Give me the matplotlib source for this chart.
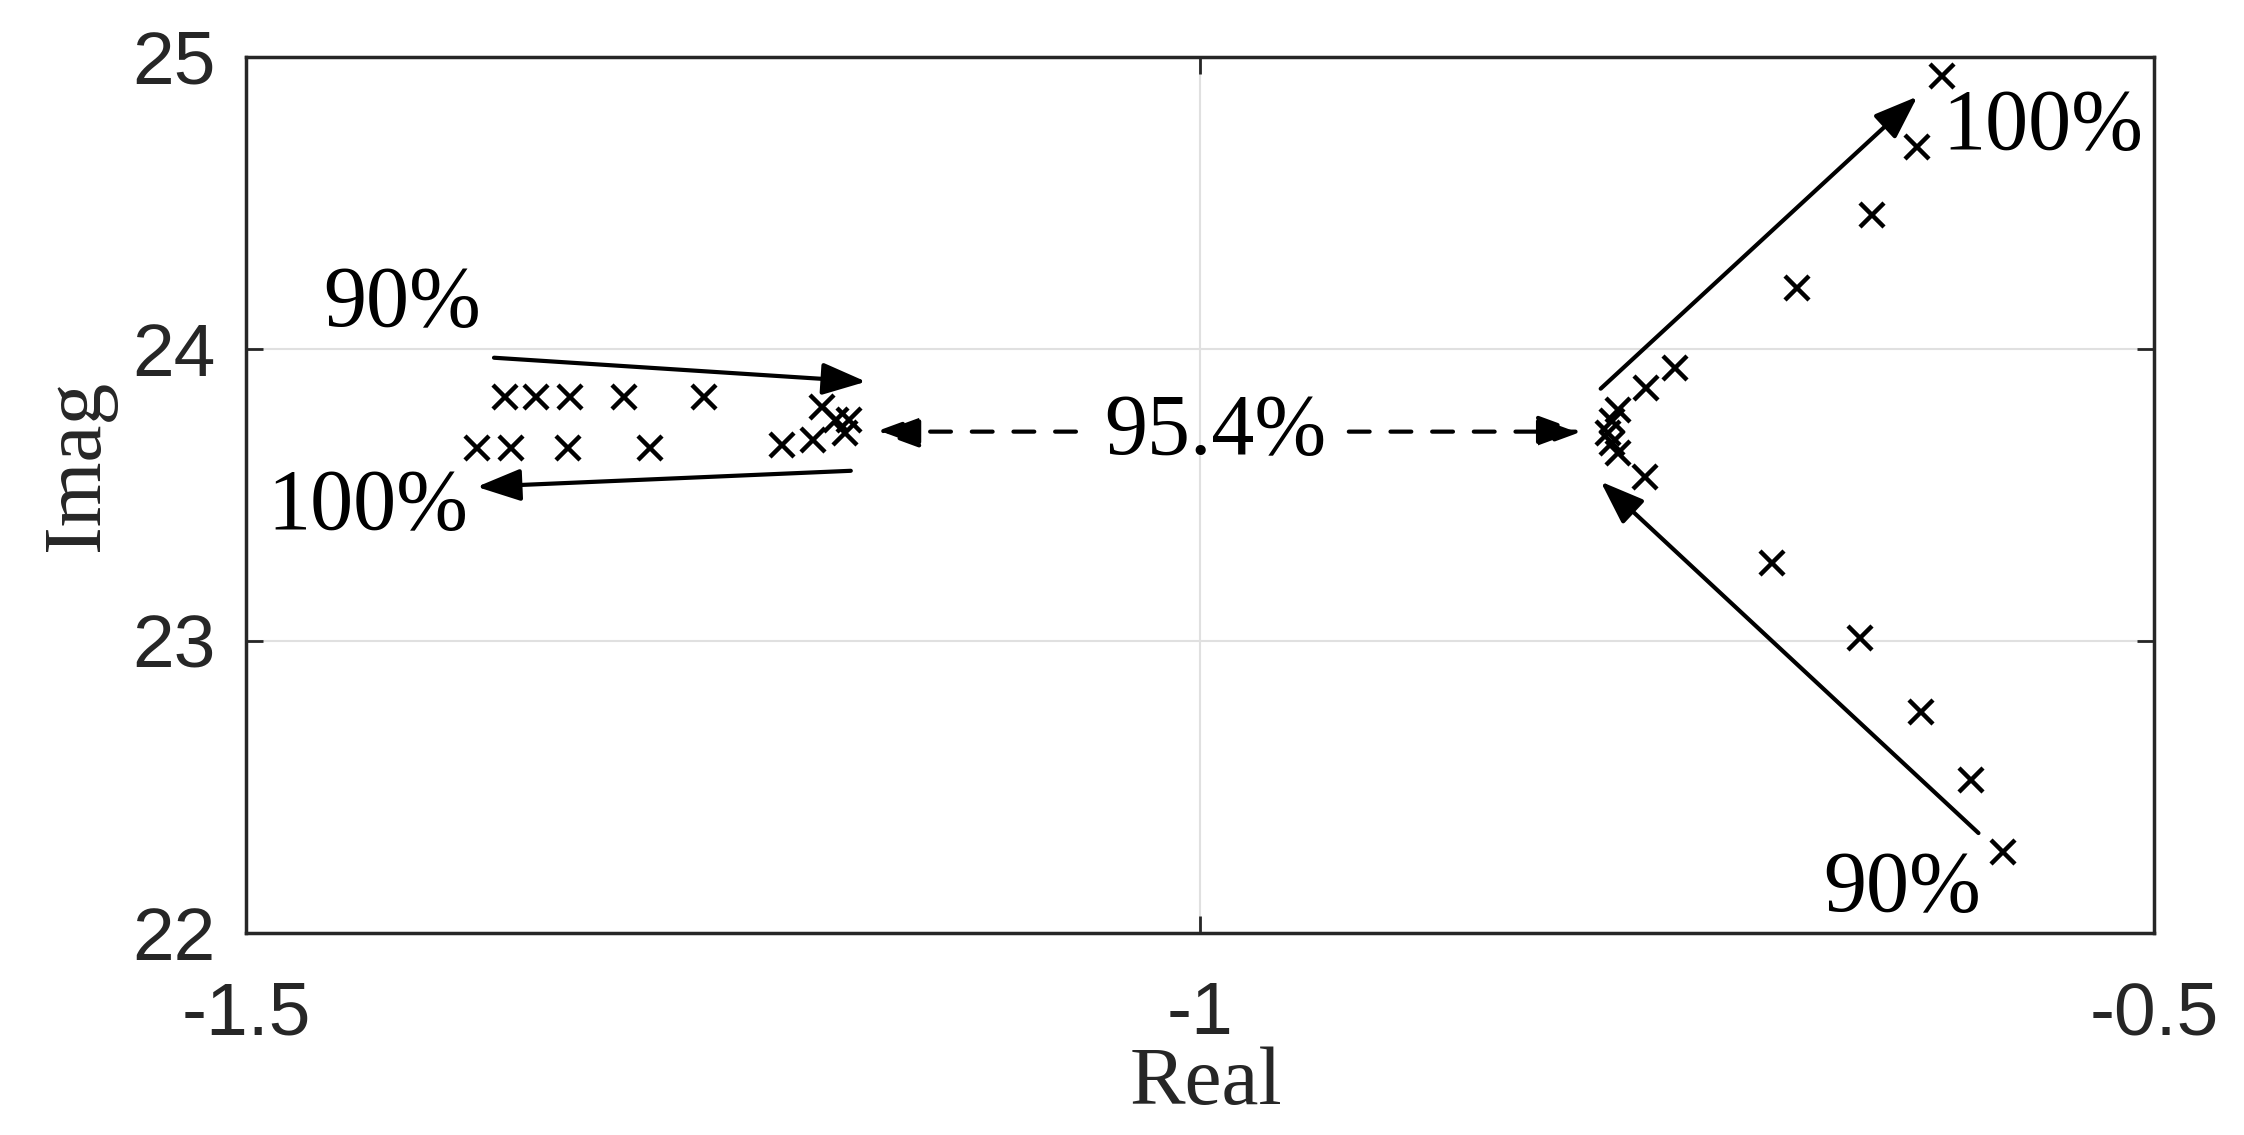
import numpy as np
from matplotlib import pyplot as plt

# pole positions (real / imag parts)
left_re = [-1.364, -1.348, -1.330, -1.302, -1.260,
           -1.379, -1.361, -1.331, -1.288,
           -1.219, -1.203, -1.198, -1.191, -1.184, -1.186]
left_im = [23.836, 23.836, 23.836, 23.836, 23.836,
           23.661, 23.661, 23.661, 23.661,
           23.671, 23.688, 23.801, 23.757, 23.757, 23.712]

right_re = [-0.751, -0.766, -0.781, -0.784, -0.786, -0.784, -0.781, -0.767,
            -0.687, -0.648, -0.624, -0.611,
            -0.700, -0.654, -0.622, -0.596, -0.579]
right_im = [23.935, 23.866, 23.791, 23.753, 23.712, 23.678, 23.644, 23.562,
            24.209, 24.459, 24.692, 24.932,
            23.267, 23.010, 22.757, 22.524, 22.277]

# solid trend arrows: (start, end)
arrows = [((-1.370, 23.969), (-1.175, 23.887)),
          ((-1.183, 23.582), (-1.379, 23.527)),
          ((-0.790, 23.863), (-0.624, 24.863)),
          ((-0.592, 22.342), (-0.790, 23.545))]
# dashed arrows around the 95.4% label
dashed_arrows = [((-1.065, 23.716), (-1.170, 23.716)),
                 ((-0.922, 23.716), (-0.800, 23.716))]

labels = ['90%', '100%', '100%', '90%', '95.4%']
label_pos = [(-1.418, 24.15), (-1.436, 23.455), (-0.558, 24.755),
             (-0.632, 22.147), (-0.992, 23.712)]

serif = ['Liberation Serif', 'DejaVu Serif']
sans = ['Liberation Sans', 'DejaVu Sans']

fig = plt.figure(figsize=(22.44, 11.35), dpi=100)
ax = fig.add_axes([0.1096, 0.178, 0.8503, 0.7722])

ax.grid(True, color='#e0e0e0', linewidth=1.5, linestyle='-')
ax.set_axisbelow(True)

ax.plot(left_re, left_im, linestyle='none', marker='x', color='black',
        markersize=17, markeredgewidth=3.2)
ax.plot(right_re, right_im, linestyle='none', marker='x', color='black',
        markersize=17, markeredgewidth=3.2)

for start, end in arrows:
    ax.annotate('', xy=end, xytext=start,
                arrowprops=dict(arrowstyle='-|>,head_length=0.9,head_width=0.33',
                                mutation_scale=30, lw=3, color='black',
                                shrinkA=0, shrinkB=0))
for start, end in dashed_arrows:
    ax.annotate('', xy=end, xytext=start,
                arrowprops=dict(arrowstyle='-|>,head_length=0.9,head_width=0.33',
                                mutation_scale=30, lw=3, color='black',
                                linestyle=(0, (5, 5)),
                                shrinkA=0, shrinkB=0))

for txt, (x, y) in zip(labels, label_pos):
    ax.text(x, y, txt, ha='center', va='center', fontsize=62,
            family=serif, color='black')

ax.set_xlim(-1.5, -0.5)
ax.set_ylim(22, 25)
ax.set_xticks([-1.5, -1, -0.5])
ax.set_xticklabels(['-1.5', '-1', '-0.5'])
ax.set_yticks([22, 23, 24, 25])
ax.set_yticklabels(['22', '23', '24', '25'])

ax.tick_params(axis='both', direction='in', length=12, width=2,
               colors='#262626', labelsize=54, top=True, right=True)
ax.tick_params(axis='x', pad=34)
ax.tick_params(axis='y', pad=22)
for lab in ax.get_xticklabels() + ax.get_yticklabels():
    lab.set_family(sans)

for sp in ax.spines.values():
    sp.set_linewidth(2.5)
    sp.set_color('#262626')

ax.set_xlabel('Real', fontsize=60, family=serif, color='#262626')
ax.set_ylabel('Imag', fontsize=60, family=serif, color='#262626')
ax.xaxis.set_label_coords(0.503, -0.13)
ax.yaxis.set_label_coords(-0.068, 0.534)

fig.savefig('out.png', dpi=100)
